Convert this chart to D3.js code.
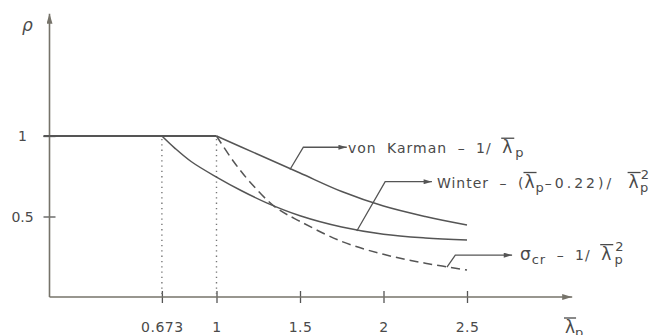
<!DOCTYPE html>
<html lang="en">
<head>
<meta charset="UTF-8">
<title>Plate buckling reduction factor</title>
<style>
  body { margin: 0; background: #fff; }
  svg text { font-family: "DejaVu Sans", sans-serif; fill: #4a4a4a; }
</style>
</head>
<body>
<script src="https://d3js.org/d3.v7.min.js"></script>
<script>
  // tick values
  var xTicks = [0.673, 1, 1.5, 2, 2.5],
      yTicks = [0.5, 1];

  // rho = 1 plateau
  var plateauL = [0, 1],
      plateauR = [1, 1];

  // von Karman
  var vkL = [1, 1.25, 1.5, 1.75, 2, 2.25, 2.5],
      vkR = [1, 0.885, 0.77, 0.655, 0.565, 0.5, 0.447];

  // Winter
  var wiL = [0.673, 0.75, 0.85, 1, 1.15, 1.3, 1.5, 1.75, 2, 2.25, 2.5],
      wiR = [1, 0.925, 0.84, 0.745, 0.66, 0.585, 0.505, 0.435, 0.39, 0.367, 0.354];

  // sigma_cr (dashed)
  var crL = [1, 1.1, 1.2, 1.35, 1.5, 1.75, 2, 2.25, 2.5],
      crR = [1, 0.845, 0.715, 0.56, 0.47, 0.345, 0.265, 0.21, 0.168];

  // dotted guides
  var guides = [0.673, 1];

  var W = 654, H = 335;
  var svg = d3.select('body').append('svg')
      .attr('width', W)
      .attr('height', H);

  var x = d3.scaleLinear().domain([0, 2.5]).range([49.5, 467]),
      y = d3.scaleLinear().domain([0, 1]).range([297, 136]);

  var ink = '#555',
      axisInk = '#76736a';

  var defs = svg.append('defs');
  defs.append('marker')
      .attr('id', 'tip')
      .attr('viewBox', '0 0 10 6')
      .attr('refX', 10).attr('refY', 3)
      .attr('markerWidth', 10).attr('markerHeight', 6)
      .attr('markerUnits', 'userSpaceOnUse')
      .attr('orient', 'auto')
    .append('path')
      .attr('d', 'M0,0L10,3L0,6Z')
      .attr('fill', axisInk);
  defs.append('marker')
      .attr('id', 'tipSmall')
      .attr('viewBox', '0 0 10 6')
      .attr('refX', 10).attr('refY', 3)
      .attr('markerWidth', 9).attr('markerHeight', 5)
      .attr('markerUnits', 'userSpaceOnUse')
      .attr('orient', 'auto')
    .append('path')
      .attr('d', 'M0,0L10,3L0,6Z')
      .attr('fill', ink);

  // axes
  var xAxis = svg.append('g')
      .attr('transform', 'translate(0,' + y(0) + ')')
      .call(d3.axisBottom(x).tickValues(xTicks).tickSize(0).tickFormat(d3.format('')));
  xAxis.select('.domain').remove();
  xAxis.selectAll('.tick line')
      .attr('y1', -6).attr('y2', 6)
      .attr('stroke', '#555').attr('stroke-width', 1.3);
  xAxis.selectAll('.tick text')
      .attr('y', 25).attr('dy', '0.71em')
      .attr('font-size', 14)
      .attr('letter-spacing', 0.5)
      .attr('fill', '#4a4a4a');

  var yAxis = svg.append('g')
      .attr('transform', 'translate(' + x(0) + ',0)')
      .call(d3.axisLeft(y).tickValues(yTicks).tickSize(0).tickFormat(d3.format('')));
  yAxis.select('.domain').remove();
  yAxis.selectAll('.tick line')
      .attr('x1', -6).attr('x2', 6)
      .attr('stroke', '#555').attr('stroke-width', 1.3);
  yAxis.selectAll('.tick text')
      .attr('x', -27).attr('dy', '0.35em')
      .attr('text-anchor', 'middle')
      .attr('font-size', 14)
      .attr('fill', '#4a4a4a');

  svg.append('line')
      .attr('x1', x(0)).attr('y1', y(0))
      .attr('x2', x(3.13)).attr('y2', y(0))
      .attr('stroke', axisInk).attr('stroke-width', 1.6)
      .attr('marker-end', 'url(#tip)');
  svg.append('line')
      .attr('x1', x(0)).attr('y1', y(0))
      .attr('x2', x(0)).attr('y2', y(1.76))
      .attr('stroke', axisInk).attr('stroke-width', 1.6)
      .attr('marker-end', 'url(#tip)');

  // dotted verticals
  svg.selectAll('.guide')
      .data(guides)
    .enter().append('line')
      .attr('class', 'guide')
      .attr('x1', function(d) { return x(d); })
      .attr('x2', function(d) { return x(d); })
      .attr('y1', y(1) + 3)
      .attr('y2', y(0) - 2)
      .attr('stroke', '#777')
      .attr('stroke-width', 1.4)
      .attr('stroke-dasharray', '1.3,4');

  // curves
  function pts(ls, rs) { return ls.map(function(l, i) { return [l, rs[i]]; }); }
  var line = d3.line()
      .x(function(d) { return x(d[0]); })
      .y(function(d) { return y(d[1]); })
      .curve(d3.curveCatmullRom.alpha(0.5));

  svg.append('path')
      .datum([[plateauL[0], plateauR[0]], [plateauL[1], plateauR[1]]])
      .attr('d', d3.line().x(function(d) { return x(d[0]); }).y(function(d) { return y(d[1]); }))
      .attr('fill', 'none').attr('stroke', ink).attr('stroke-width', 2);
  svg.append('line')
      .attr('x1', x(0) - 6).attr('x2', x(0))
      .attr('y1', y(1)).attr('y2', y(1))
      .attr('stroke', ink).attr('stroke-width', 2);

  [[vkL, vkR, null], [wiL, wiR, null], [crL, crR, '9,5']].forEach(function(s) {
    svg.append('path')
        .datum(pts(s[0], s[1]))
        .attr('d', line)
        .attr('fill', 'none')
        .attr('stroke', ink)
        .attr('stroke-width', 1.5)
        .attr('stroke-dasharray', s[2]);
  });

  // leaders: curve point, elbow, arrow tip  (lambda, rho)
  var leaders = [
    [[1.44, 0.792], [1.52, 0.93], [1.78, 0.93]],
    [[1.84, 0.41], [2.01, 0.716], [2.29, 0.716]],
    [[2.38, 0.186], [2.43, 0.26], [2.77, 0.26]]
  ];
  svg.selectAll('.leader')
      .data(leaders)
    .enter().append('polyline')
      .attr('class', 'leader')
      .attr('points', function(d) { return d.map(function(p) { return x(p[0]) + ',' + y(p[1]); }).join(' '); })
      .attr('fill', 'none')
      .attr('stroke', ink)
      .attr('stroke-width', 1.3)
      .attr('marker-end', 'url(#tipSmall)');

  // labels
  function label(lx, ly, parts) {
    var t = svg.append('text')
        .attr('x', x(lx)).attr('y', y(ly))
        .attr('font-size', 14)
        .attr('letter-spacing', 1)
        .attr('word-spacing', 5);
    parts.forEach(function(p) {
      var s = t.append('tspan').text(p.t);
      if (p.dy) s.attr('dy', p.dy);
      if (p.dx) s.attr('dx', p.dx);
      if (p.fs) s.attr('font-size', p.fs);
      if (p.ls) s.attr('letter-spacing', p.ls);
    });
    return t;
  }

  var labels = [];
  labels.push(label(1.787, 0.893, [
    { t: 'von Karman \u2013 1/ ' }, { t: '\u03bb', fs: 17 }, { t: 'p', dy: 4, dx: 2, fs: 13 }
  ]));
  labels.push(label(2.32, 0.68, [
    { t: 'Winter \u2013 (' }, { t: '\u03bb', fs: 17 }, { t: 'p', dy: 4, fs: 13 },
    { t: '\u20130.22)/ ', dy: -4, ls: 3 }, { t: '\u03bb', fs: 17, dx: 2 },
    { t: '2', dy: -9, dx: 1, fs: 13 }, { t: 'p', dy: 13, dx: -10, fs: 13 }
  ]));
  labels.push(label(2.817, 0.232, [
    { t: '\u03c3', fs: 17 }, { t: 'cr', dy: 4, fs: 13 }, { t: ' \u2013 1/ ', dy: -4 },
    { t: '\u03bb', fs: 17 }, { t: '2', dy: -9, dx: 3, fs: 13 }, { t: 'p', dy: 13, dx: -10, fs: 13 }
  ]));

  // axis titles
  svg.append('text')
      .attr('x', 22).attr('y', 31)
      .attr('font-size', 17)
      .attr('font-style', 'italic')
      .text('\u03c1');
  labels.push(svg.append('text')
      .attr('x', 565).attr('y', 333)
      .attr('font-size', 17)
      .call(function(t) {
        t.append('tspan').text('\u03bb');
        t.append('tspan').attr('dy', 4).attr('font-size', 13).text('p');
      }));

  // bars over lambda
  labels.forEach(function(t) {
    var node = t.node(), s = node.textContent;
    for (var i = 0; i < s.length; i++) {
      if (s[i] !== '\u03bb') continue;
      var b = node.getExtentOfChar(i);
      svg.append('line')
          .attr('x1', b.x - 1).attr('x2', b.x + b.width + 1)
          .attr('y1', b.y + 1).attr('y2', b.y + 1)
          .attr('stroke', '#4a4a4a')
          .attr('stroke-width', 1.3);
    }
  });
</script>
</body>
</html>
